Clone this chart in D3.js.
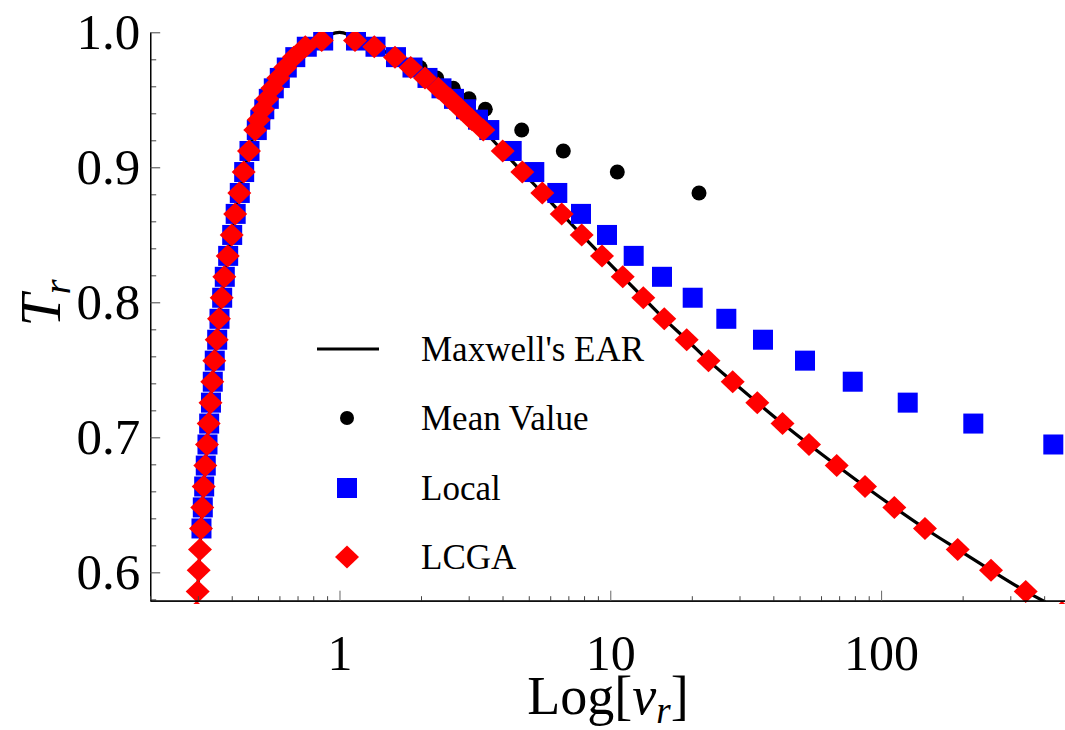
<!DOCTYPE html>
<html><head><meta charset="utf-8">
<script src="https://cdn.jsdelivr.net/npm/d3@7"></script>
<style>body{margin:0;background:#fff}svg{display:block}</style>
</head><body>
<svg id="chart" width="1065" height="730"></svg>
<script>
// ---- data ----
// shared T_r levels at which markers were sampled
const levelT = [0.9939, 0.9893, 0.9816, 0.9739, 0.9662, 0.9585, 0.9507, 0.9430, 0.9353, 0.9276,
  0.9121, 0.8965, 0.8810, 0.8655, 0.8499, 0.8344, 0.8189, 0.8034, 0.7878, 0.7723,
  0.7568, 0.7412, 0.7257, 0.7102, 0.6947, 0.6791, 0.6636, 0.6481, 0.6325, 0.6170,
  0.6015, 0.5859, 0.5704];

// LCGA (red diamonds): v_r on the low and high branch for each level
const lcgaLowV = [0.8595, 0.7477, 0.6780, 0.6308, 0.5943, 0.5647, 0.5412, 0.5209, 0.5035, 0.4887,
  0.4632, 0.4428, 0.4266, 0.4119, 0.3999, 0.3865, 0.3755, 0.3673, 0.3589, 0.3520,
  0.3449, 0.3390, 0.3339, 0.3288, 0.3241, 0.3195, 0.3151, 0.3114, 0.3080, 0.3054,
  0.3020, 0.2995, 0.2969];
const lcgaHighV = [1.1409, 1.3443, 1.6030, 1.8321, 2.0689, 2.3166, 2.5588, 2.8098, 3.0852, 3.3964,
  4.0056, 4.7322, 5.6088, 6.6150, 7.8414, 9.3194, 11.115, 13.240, 15.823, 19.147,
  23.05, 28.31, 34.90, 43.25, 54.17, 68.56, 87.22, 111.9, 145.2, 191.8,
  254.6, 342.0, 465.6];

// Local (blue squares)
const localLowV = [0.8706, 0.7573, 0.6867, 0.6388, 0.6019, 0.5720, 0.5482, 0.5276, 0.5100, 0.4950,
  0.4652, 0.4447, 0.4284, 0.4137, 0.4016, 0.3881, 0.3771, 0.3688, 0.3605, 0.3535,
  0.3463, 0.3405, 0.3353, 0.3302, 0.3255, 0.3208, 0.3165, 0.3128, 0.3093];
const localHighV = [1.1506, 1.3582, 1.6167, 1.8603, 2.1133, 2.3804, 2.6474, 2.9318, 3.2468, 3.5742,
  4.3242, 5.2404, 6.3718, 7.7948, 9.7235, 12.20, 15.52, 20.15, 26.82, 36.63,
  52.36, 78.57, 125.4, 219.0, 432.4];

// Mean Value (black dots)
const meanV = [1.9834, 2.2854, 2.6317, 3.0075, 3.4549, 4.7081, 6.7056, 10.613, 21.26];
const meanT = [0.9739, 0.9662, 0.9585, 0.9507, 0.9430, 0.9276, 0.9121, 0.8965, 0.8810];

// Maxwell's EAR (black curve)
const maxwellV = [0.2977, 0.2995, 0.3020, 0.3054, 0.3080, 0.3114, 0.3151, 0.3195, 0.3241, 0.3288,
  0.3339, 0.3390, 0.3449, 0.3520, 0.3589, 0.3673, 0.3755, 0.3865, 0.3999, 0.4119,
  0.4266, 0.4428, 0.4632, 0.4887, 0.5035, 0.5209, 0.5412, 0.5647, 0.5943, 0.6308,
  0.6780, 0.7477, 0.8595, 0.93, 1.0, 1.07, 1.1409, 1.3443, 1.6030, 1.8321,
  2.0689, 2.3166, 2.5588, 2.8098, 3.0852, 3.3964, 4.0056, 4.7322, 5.6088, 6.6150,
  7.8414, 9.3194, 11.115, 13.240, 15.823, 19.147, 23.05, 28.31, 34.90, 43.25,
  54.17, 68.56, 87.22, 111.9, 145.2, 191.8, 254.6, 342.0, 402.9];
const maxwellT = [0.5790, 0.5859, 0.6015, 0.6170, 0.6325, 0.6481, 0.6636, 0.6791, 0.6947, 0.7102,
  0.7257, 0.7412, 0.7568, 0.7723, 0.7878, 0.8034, 0.8189, 0.8344, 0.8499, 0.8655,
  0.8810, 0.8965, 0.9121, 0.9276, 0.9353, 0.9430, 0.9507, 0.9585, 0.9662, 0.9739,
  0.9816, 0.9893, 0.9939, 0.9985, 1.0, 0.9985, 0.9939, 0.9893, 0.9816, 0.9739,
  0.9662, 0.9585, 0.9507, 0.9430, 0.9353, 0.9276, 0.9121, 0.8965, 0.8810, 0.8655,
  0.8499, 0.8344, 0.8189, 0.8034, 0.7878, 0.7723, 0.7568, 0.7412, 0.7257, 0.7102,
  0.6947, 0.6791, 0.6636, 0.6481, 0.6325, 0.6170, 0.6015, 0.5859, 0.5782];

// ticks
const xMajorTicks = [1, 10, 100];
const xMinorTicks = [0.2, 0.3, 0.4, 0.5, 0.6, 0.7, 0.8, 0.9, 2, 3, 4, 5, 6, 7, 8, 9,
  20, 30, 40, 50, 60, 70, 80, 90, 200, 300, 400];
const yMajorTicks = [0.6, 0.7, 0.8, 0.9, 1.0];
const yMinorTicks = [0.58, 0.62, 0.64, 0.66, 0.68, 0.72, 0.74, 0.76, 0.78, 0.82, 0.84, 0.86, 0.88,
  0.92, 0.94, 0.96, 0.98];

const legendLabels = ["Maxwell's EAR", "Mean Value", "Local", "LCGA"];

// ---- drawing ----
const serif = "'Liberation Serif','Times New Roman',Times,serif";
const svg = d3.select("#chart");
const x = d3.scaleLog().domain([0.2, 477.6]).range([150.2, 1065]);
const y = d3.scaleLinear().domain([0.579, 1.0]).range([600.7, 32.3]);

const defs = svg.append("defs");
defs.append("clipPath").attr("id", "clipLine").append("rect")
  .attr("x", 150).attr("y", 28).attr("width", 915).attr("height", 573);
defs.append("clipPath").attr("id", "clipMarks").append("rect")
  .attr("x", 150).attr("y", 32).attr("width", 915).attr("height", 572);

const diamond = "M0,-11.5L12,0L0,11.5L-12,0Z";
const sq = 20;

// curve
const curvePts = d3.zip(maxwellV, maxwellT);
svg.append("path").datum(curvePts)
  .attr("clip-path", "url(#clipLine)")
  .attr("fill", "none").attr("stroke", "#000").attr("stroke-width", 3.2)
  .attr("stroke-linejoin", "round")
  .attr("d", d3.line().x(d => x(d[0])).y(d => y(d[1])).curve(d3.curveMonotoneX));

const marks = svg.append("g").attr("clip-path", "url(#clipMarks)");

// mean dots
marks.append("g").selectAll("circle").data(d3.zip(meanV, meanT)).join("circle")
  .attr("cx", d => x(d[0])).attr("cy", d => y(d[1])).attr("r", 7.5).attr("fill", "#000");

// local squares
const localPts = localLowV.map((v, i) => [v, levelT[i]]).concat(localHighV.map((v, i) => [v, levelT[i]]));
marks.append("g").selectAll("rect").data(localPts).join("rect")
  .attr("x", d => x(d[0]) - sq / 2).attr("y", d => y(d[1]) - sq / 2)
  .attr("width", sq).attr("height", sq).attr("fill", "#0000ff");

// LCGA diamonds
const lcgaPts = lcgaLowV.map((v, i) => [v, levelT[i]]).concat(lcgaHighV.map((v, i) => [v, levelT[i]]));
marks.append("g").selectAll("path").data(lcgaPts).join("path")
  .attr("transform", d => `translate(${x(d[0])},${y(d[1])})`)
  .attr("d", diamond).attr("fill", "#ff0000");

// axes
function styleAxis(g, tickColor) {
  g.selectAll(".domain").attr("stroke", "#000").attr("stroke-width", 1.2);
  g.selectAll(".tick line").attr("stroke", tickColor).attr("stroke-width", 1);
}
const yMinor = svg.append("g").attr("transform", "translate(150.2,0)")
  .call(d3.axisLeft(y).tickValues(yMinorTicks).tickSize(-6).tickSizeOuter(0).tickFormat(""));
styleAxis(yMinor, "#444");
const yMajor = svg.append("g").attr("transform", "translate(150.2,0)")
  .call(d3.axisLeft(y).tickValues(yMajorTicks).tickSize(-10).tickSizeOuter(0).tickPadding(10)
    .tickFormat(d3.format(".1f")));
styleAxis(yMajor, "#444");
yMajor.selectAll("text").attr("font-family", serif).attr("font-size", 51).attr("fill", "#000");

const xMinor = svg.append("g").attr("transform", "translate(0,600.7)")
  .call(d3.axisBottom(x).tickValues(xMinorTicks).tickSize(-4.5).tickSizeOuter(0).tickFormat(""));
styleAxis(xMinor, "#444");
const xMajor = svg.append("g").attr("transform", "translate(0,600.7)")
  .call(d3.axisBottom(x).tickValues(xMajorTicks).tickSize(-10).tickSizeOuter(0).tickPadding(34)
    .tickFormat(d3.format("d")));
styleAxis(xMajor, "#666");
xMajor.selectAll("text").attr("font-family", serif).attr("font-size", 50).attr("fill", "#000");

// axis titles
const xt = svg.append("text").attr("x", 608).attr("y", 714).attr("text-anchor", "middle")
  .attr("font-family", serif).attr("font-size", 54).attr("fill", "#000");
xt.append("tspan").text("Log[");
xt.append("tspan").attr("font-style", "italic").text("v");
xt.append("tspan").attr("font-style", "italic").attr("font-size", 37).attr("dy", 9).text("r");
xt.append("tspan").attr("dy", -9).text("]");

const yt = svg.append("text").attr("transform", "translate(60,303) rotate(-90)")
  .attr("text-anchor", "middle").attr("font-family", serif).attr("font-size", 58).attr("fill", "#000");
yt.append("tspan").attr("font-style", "italic").text("T");
yt.append("tspan").attr("font-style", "italic").attr("font-size", 38).attr("dy", 10).text("r");

// legend
const lg = svg.append("g");
const lx = 347, ly = [349, 418, 488, 557], tx = 421;
lg.append("line").attr("x1", lx - 30).attr("x2", lx + 32).attr("y1", ly[0]).attr("y2", ly[0])
  .attr("stroke", "#000").attr("stroke-width", 3.2);
lg.append("circle").attr("cx", lx).attr("cy", ly[1]).attr("r", 7).attr("fill", "#000");
lg.append("rect").attr("x", lx - sq / 2).attr("y", ly[2] - sq / 2).attr("width", sq).attr("height", sq).attr("fill", "#0000ff");
lg.append("path").attr("transform", `translate(${lx},${ly[3]})`).attr("d", diamond).attr("fill", "#ff0000");
lg.selectAll("text.lab").data(legendLabels).join("text").attr("class", "lab")
  .attr("x", tx).attr("y", (d, i) => ly[i]).attr("dy", "0.35em")
  .attr("font-family", serif).attr("font-size", 35).attr("fill", "#000").text(d => d);
</script>
</body></html>
